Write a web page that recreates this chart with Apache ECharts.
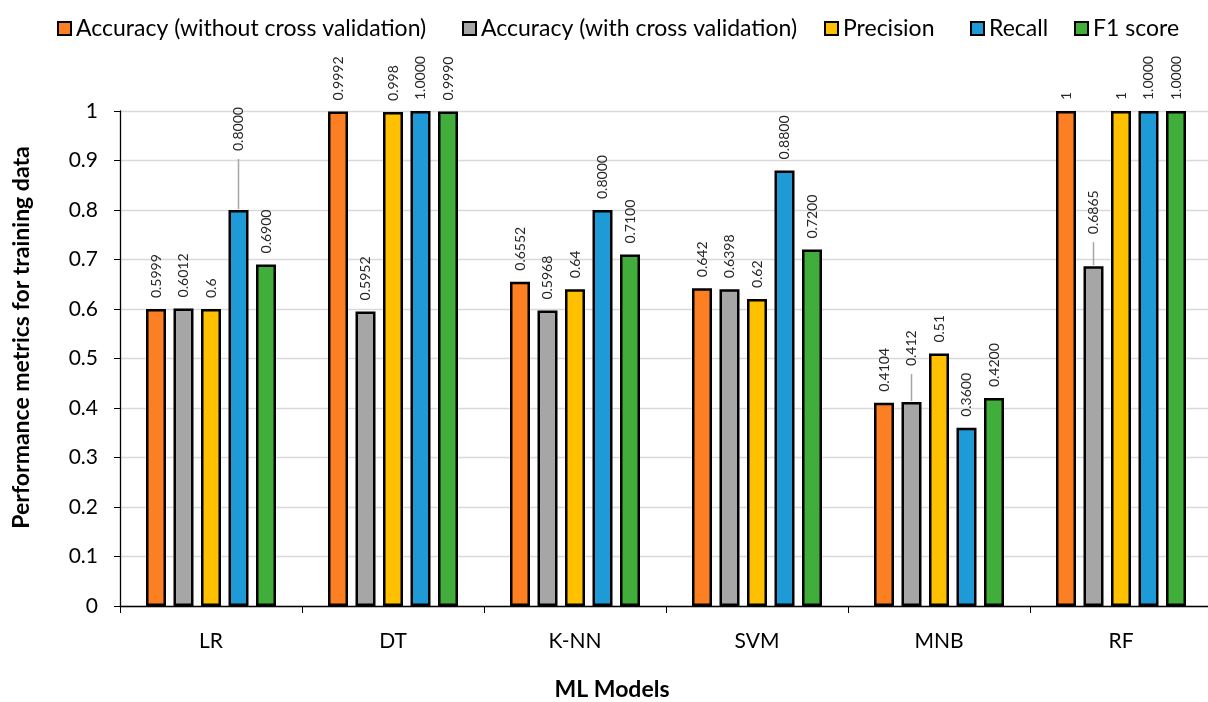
<!DOCTYPE html>
<html>
<head>
<meta charset="utf-8">
<script src="https://cdn.jsdelivr.net/npm/echarts@6/dist/echarts.min.js"></script>
<style>
html,body{margin:0;padding:0;background:#fff;overflow:hidden;}
#chart{width:1208px;height:702px;}
</style>
</head>
<body>
<div id="chart"></div>
<script>
const categories = ['LR', 'DT', 'K-NN', 'SVM', 'MNB', 'RF'];
const seriesNames = ['Accuracy (without cross validation)', 'Accuracy (with cross validation)', 'Precision', 'Recall', 'F1 score'];

const accNoCV = [0.5999, 0.9992, 0.6552, 0.642, 0.4104, 1];
const accCV = [0.6012, 0.5952, 0.5968, 0.6398, 0.412, 0.6865];
const precision = [0.6, 0.998, 0.64, 0.62, 0.51, 1];
const recall = [0.8, 1.0, 0.8, 0.88, 0.36, 1.0];
const f1 = [0.69, 0.999, 0.71, 0.72, 0.42, 1.0];

const accNoCVLabels = ['0.5999', '0.9992', '0.6552', '0.642', '0.4104', '1'];
const accCVLabels = ['0.6012', '0.5952', '0.5968', '0.6398', '0.412', '0.6865'];
const precisionLabels = ['0.6', '0.998', '0.64', '0.62', '0.51', '1'];
const recallLabels = ['0.8000', '1.0000', '0.8000', '0.8800', '0.3600', '1.0000'];
const f1Labels = ['0.6900', '0.9990', '0.7100', '0.7200', '0.4200', '1.0000'];

const yTicks = ['0', '0.1', '0.2', '0.3', '0.4', '0.5', '0.6', '0.7', '0.8', '0.9', '1'];

const colors = ['#fd7f24', '#a6a6a6', '#ffc000', '#1e9ad6', '#41ad3a'];
const allValues = [accNoCV, accCV, precision, recall, f1];
const allLabels = [accNoCVLabels, accCVLabels, precisionLabels, recallLabels, f1Labels];
// labels lifted with a leader line (style only): [seriesIndex, dataIndex, leader length px]
const lifted = [[3, 0, 50], [1, 4, 27], [1, 5, 23]];
// legend item left positions (layout)
const legendLefts = [52, 457, 819, 965, 1069];

const FONT = 'Lato';

function draw() {
  const chart = echarts.init(document.getElementById('chart'));

  const series = allValues.map((vals, si) => ({
    name: seriesNames[si],
    type: 'bar',
    barWidth: 20,
    barGap: '37.5%',
    itemStyle: { color: colors[si], borderColor: '#000', borderWidth: 2.5 },
    label: {
      show: true, position: 'top', rotate: 90, distance: 11,
      align: 'left', verticalAlign: 'middle',
      fontFamily: FONT, fontSize: 14, color: '#262626'
    },
    data: vals.map((v, di) => {
      const lift = lifted.find(l => l[0] === si && l[1] === di);
      if (lift) {
        return {
          value: v,
          label: {
            distance: 1,
            formatter: '{l|}{t|' + allLabels[si][di] + '}',
            rich: {
              l: { width: lift[2], height: 1.5, backgroundColor: '#a6a6a6' },
              t: { fontFamily: FONT, fontSize: 14, color: '#262626', padding: [0, 0, 0, 8] }
            }
          }
        };
      }
      return { value: v, label: { formatter: allLabels[si][di] } };
    })
  }));

  const legends = seriesNames.map((n, i) => ({
    top: 12, left: legendLefts[i],
    itemWidth: 13, itemHeight: 13,
    icon: 'rect',
    itemStyle: { borderColor: '#000', borderWidth: 2 },
    textStyle: { fontFamily: FONT, fontSize: 23, color: '#000' },
    data: [n]
  }));

  chart.setOption({
    animation: false,
    backgroundColor: '#fff',
    color: colors,
    legend: legends,
    grid: { left: 120, top: 111, width: 1092, height: 495, outerBoundsMode: 'none', containLabel: false },
    xAxis: {
      type: 'category',
      data: categories,
      name: 'ML Models',
      nameLocation: 'middle',
      nameGap: 72,
      nameTextStyle: { fontFamily: FONT, fontSize: 23, fontWeight: 'bold', color: '#000', padding: [0, 108, 0, 0] },
      axisLine: { lineStyle: { color: '#000', width: 1.3 } },
      axisTick: { show: true, length: 7, lineStyle: { color: '#000' } },
      axisLabel: { fontFamily: FONT, fontSize: 21, color: '#000', margin: 25 }
    },
    yAxis: {
      type: 'value',
      min: 0, max: 1, interval: 0.1,
      name: 'Performance metrics for training data',
      nameLocation: 'middle',
      nameGap: 87,
      nameTextStyle: { fontFamily: FONT, fontSize: 23, fontWeight: 'bold', color: '#000', padding: [0, 0, 0, 42] },
      axisLine: { show: true, lineStyle: { color: '#000', width: 1.3 } },
      axisTick: { show: true, length: 6, lineStyle: { color: '#000' } },
      axisLabel: {
        fontFamily: FONT, fontSize: 21, color: '#000', margin: 22,
        formatter: function (v) { return yTicks[Math.round(v * 10)]; }
      },
      splitLine: { lineStyle: { color: '#d9d9d9', width: 1.3 } }
    },
    series: series
  });
}

if (document.fonts && document.fonts.load) {
  Promise.all([
    document.fonts.load('14px Lato'),
    document.fonts.load('23px Lato'),
    document.fonts.load('bold 23px Lato')
  ]).then(draw, draw);
} else {
  draw();
}
</script>
</body>
</html>
